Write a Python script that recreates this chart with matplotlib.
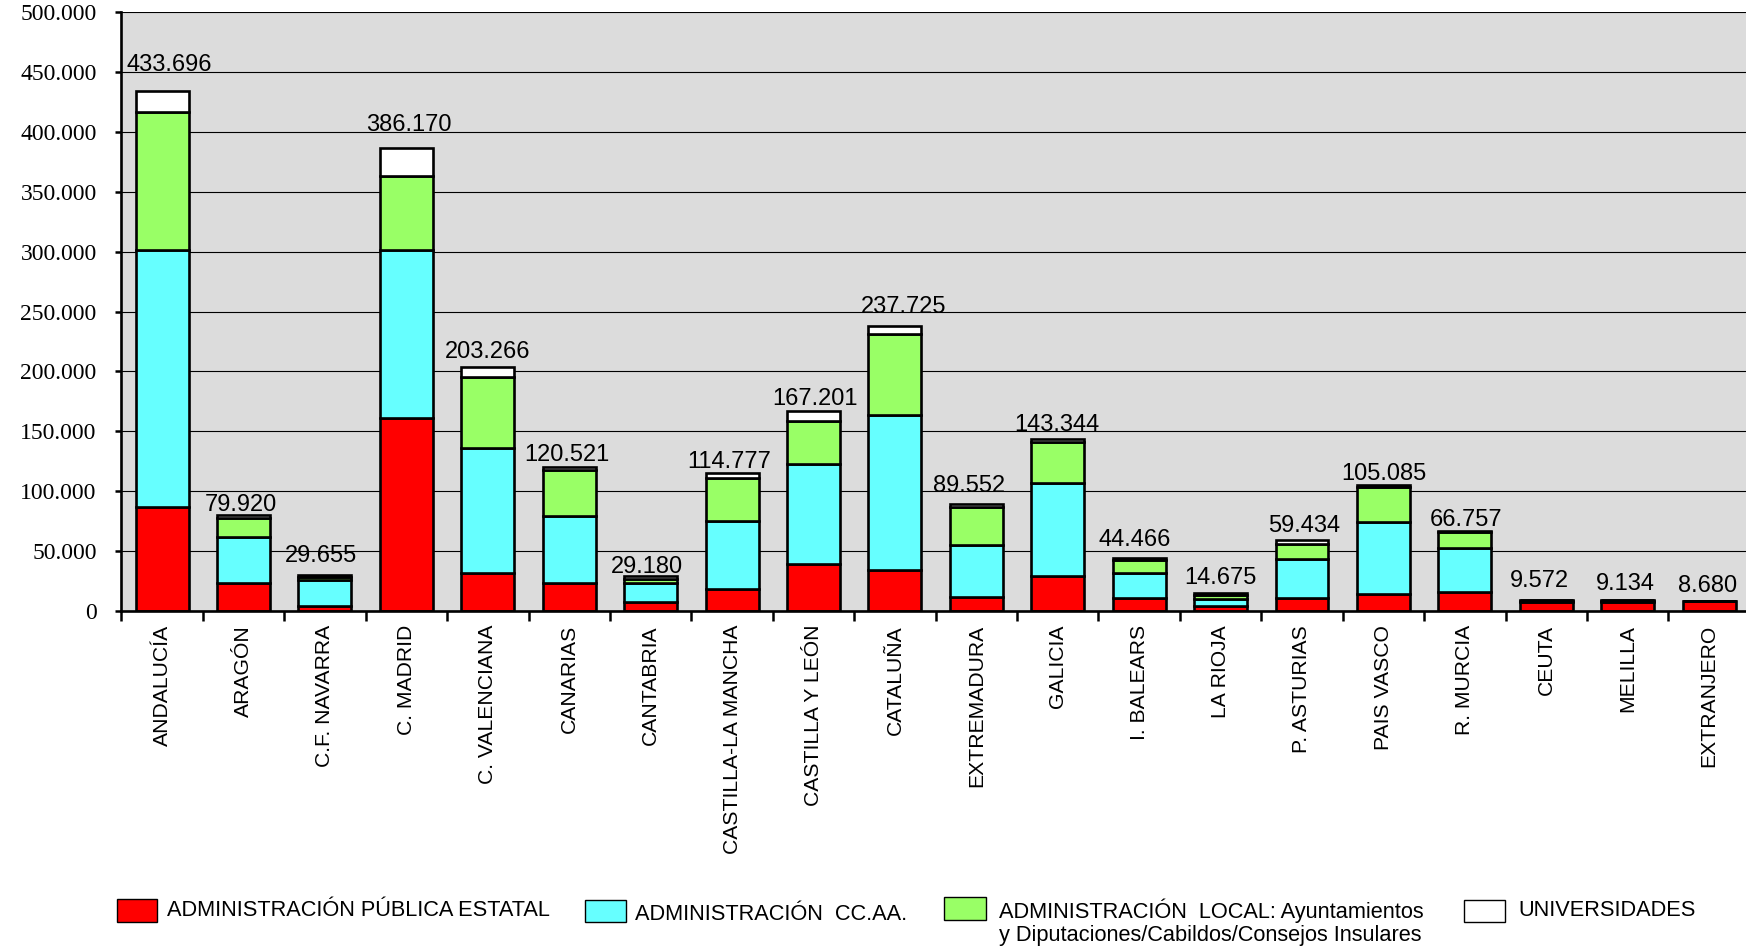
import matplotlib
matplotlib.use('Agg')
import matplotlib.pyplot as plt
from matplotlib.patches import Rectangle
from matplotlib.ticker import FixedLocator, FuncFormatter
import numpy as np

# ---------------- data ----------------
categories = ["ANDALUCÍA", "ARAGÓN", "C.F. NAVARRA", "C. MADRID", "C. VALENCIANA",
              "CANARIAS", "CANTABRIA", "CASTILLA-LA MANCHA", "CASTILLA Y LEÓN",
              "CATALUÑA", "EXTREMADURA", "GALICIA", "I. BALEARS", "LA RIOJA",
              "P. ASTURIAS", "PAIS VASCO", "R. MURCIA", "CEUTA", "MELILLA", "EXTRANJERO"]
totals = [433696, 79920, 29655, 386170, 203266, 120521, 29180, 114777, 167201, 237725,
          89552, 143344, 44466, 14675, 59434, 105085, 66757, 9572, 9134, 8680]
estatal = [87000, 23100, 4400, 161400, 32000, 23100, 7500, 18400, 39300, 34300,
           11400, 29500, 11100, 4400, 10900, 14000, 16100, 7500, 7300, 8680]
ccaa = [214500, 38500, 21300, 140100, 104000, 56600, 15900, 56800, 83600, 129400,
        43800, 77200, 20900, 5600, 32300, 60700, 36300, 1000, 1000, 0]
local = [115000, 15900, 3000, 61200, 59200, 38200, 3100, 35700, 35900, 67400,
         31500, 34000, 10600, 3500, 12800, 28700, 13400, 800, 600, 0]
universidades = [17200, 2400, 950, 23500, 8100, 2600, 2700, 3900, 8400, 6600,
                 2850, 2600, 1850, 1200, 3400, 1700, 950, 270, 230, 0]
series_names = ["ADMINISTRACIÓN PÚBLICA ESTATAL", "ADMINISTRACIÓN  CC.AA.",
                "ADMINISTRACIÓN  LOCAL: Ayuntamientos\ny Diputaciones/Cabildos/Consejos Insulares",
                "UNIVERSIDADES"]
yticks = [0, 50000, 100000, 150000, 200000, 250000, 300000, 350000, 400000, 450000, 500000]

# ---------------- style ----------------
colors = ["#FF0000", "#66FFFF", "#99FF66", "#FFFFFF"]
# label offsets (pixels) relative to bar top / bar centre
lab_dy = [20, 4, 13, 17, 9, 6, 3, 5, 6, 13, 12, 8.6, 11.7, 9, 7.7, 5, 5, 12.7, 10.3, 8.7]
lab_dx = [7, -3, -4, 2.5, 0, -2, -4, -3, 1.4, 9, -7.5, -1, -4, 0, 2, 0, 1.7, -7, -2, -2]

W, H = 1746, 949
fig = plt.figure(figsize=(W / 100, H / 100), dpi=100)
fig.patch.set_facecolor("white")
left_px, right_px, top_px, bot_px = 121.4, 1749.8, 12, 611
ax = fig.add_axes([left_px / W, 1 - bot_px / H, (right_px - left_px) / W, (bot_px - top_px) / H])
ax.set_facecolor("#DCDCDC")

x = np.arange(len(categories))
bw = 0.65
bottom = np.zeros(len(categories))
for vals, col in zip([estatal, ccaa, local, universidades], colors):
    v = np.array(vals, dtype=float)
    ax.bar(x, v, bw, bottom=bottom, color=col, edgecolor="black", linewidth=1.9, zorder=3)
    bottom += v

ax.set_xlim(-0.5, len(categories) - 0.5)
ax.set_ylim(0, 500000)
ax.set_axisbelow(True)

# y axis
ax.yaxis.set_major_locator(FixedLocator(yticks))
ax.yaxis.set_major_formatter(FuncFormatter(lambda v, p: f"{int(v):,}".replace(",", ".")))
ax.grid(axis="y", color="black", linewidth=0.8, zorder=0)
ax.tick_params(axis="y", which="major", direction="out", length=4.3, width=1.8, pad=13.5,
               labelsize=17, colors="black", labelfontfamily="Liberation Serif")

# x axis: ticks at category boundaries, labels at centres
ax.xaxis.set_major_locator(FixedLocator(np.arange(-0.5, len(categories) + 0.5, 1.0)))
ax.xaxis.set_major_formatter(FuncFormatter(lambda v, p: ""))
ax.set_xticks(x, minor=True)
ax.set_xticklabels(categories, minor=True, rotation=90, va="top", ha="center",
                   fontsize=15.2, fontfamily="Liberation Sans")
ax.tick_params(axis="x", which="major", direction="out", length=7, width=1.8)
ax.tick_params(axis="x", which="minor", length=0, pad=10)

for s in ["top", "right"]:
    ax.spines[s].set_visible(False)
for s in ["left", "bottom"]:
    ax.spines[s].set_linewidth(1.9)
    ax.spines[s].set_color("black")
    ax.spines[s].set_zorder(5)

# total labels
for i, t in enumerate(totals):
    ax.annotate(f"{t:,}".replace(",", "."), xy=(x[i], bottom[i]),
                xytext=(lab_dx[i] * 0.72, lab_dy[i] * 0.72), textcoords="offset points",
                ha="center", va="baseline", fontsize=17, fontfamily="Liberation Sans",
                color="black", zorder=6)

# ---------------- legend (manual) ----------------
def fx(px):
    return px / W

def fy(py):
    return 1 - py / H

leg_items = [
    # patch x0, x1, y0, y1, text x, text y
    (117, 157, 899, 922, 167, 911),
    (585, 626, 900, 922, 635, 914),
    (944, 986, 897, 920, 999, 922.5),
    (1464, 1505, 900, 922, 1518, 911),
]
for (x0, x1, y0, y1, tx, ty), col, name in zip(leg_items, colors, series_names):
    fig.patches.append(Rectangle((fx(x0), fy(y1)), fx(x1) - fx(x0), fy(y0) - fy(y1),
                                 transform=fig.transFigure, facecolor=col,
                                 edgecolor="black", linewidth=1.0))
    fig.text(fx(tx), fy(ty), name, ha="left", va="center", fontsize=15.7,
             fontfamily="Liberation Sans", linespacing=1.15)

fig.savefig("out.png", dpi=100, facecolor="white")
